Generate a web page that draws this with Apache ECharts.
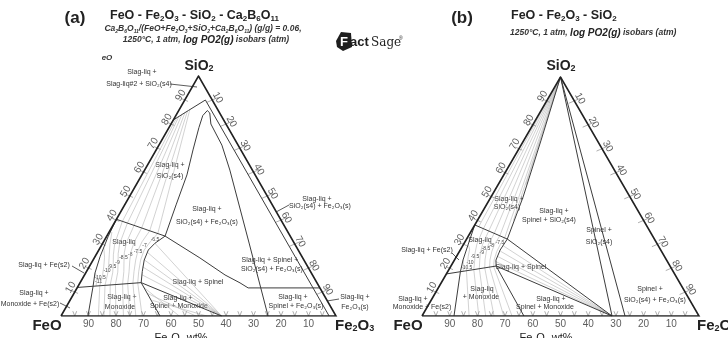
<!DOCTYPE html>
<html>
<head>
<meta charset="utf-8">
<title>FeO - Fe2O3 - SiO2 isobars</title>
<script src="https://cdn.jsdelivr.net/npm/echarts@6/dist/echarts.min.js"></script>
<style>
html,body{margin:0;padding:0;background:#fff}
#main{width:728px;height:338px}
</style>
</head>
<body>
<div id="main"></div>
<script>
// every point is [Fe2O3 wt%, SiO2 wt%], FeO is the rest
var edgeTicks = [10, 20, 30, 40, 50, 60, 70, 80, 90];
var baseMarks = [5, 10, 15, 20, 25, 30, 35, 40, 45, 50, 55, 60, 65, 70, 75, 80, 85, 90, 95];

// ---- (a) with Ca2B6O11 ----
var aL1 = [[0, 81.7], [3.5, 85.6], [7.5, 90]];
var aNearEdge = [[7.5, 90], [97.5, 0]];
var aDome = [[21.2, 33.3], [18.7, 46.3], [16.4, 58.8], [13.4, 69.2], [10.9, 78.5], [9.8, 83.5], [10.4, 85.6],
  [11.8, 84.6], [14.5, 80], [22.9, 71.2], [31, 60.8], [53.2, 30.4], [75.3, 0]];
var aSpinelTop = [[21.2, 33.3], [38.4, 24.2], [51.1, 17.1], [58.2, 13.8], [62.2, 11.7], [88.3, 11.7]];
var aLiquidus = [[21.2, 33.3], [19, 30.3], [18, 27.5], [18.6, 23.3], [20.3, 18.5], [22.2, 13.9]];
var aSiO2Sat = [[0, 40.3], [21.2, 33.3]];
var aMonoTop = [[0, 11.9], [22.2, 13.9]];
var aMonoRight = [[22.2, 13.9], [36, 0]];
var aSpinelBot = [[22.2, 13.9], [58.4, 0]];
var aFeSat = [[0, 40.3], [0.6, 33], [1.85, 24.7], [3.4, 17.9], [5.5, 12.3], [9.8, 0]];

var aIsobars = [
  [[21, 13.8], [19, 18.5], [17.3, 23.3], [16.5, 27.5], [17, 31], [18, 34.4]],
  [[19.3, 13.7], [17.3, 18.5], [15.5, 23.3], [14.3, 27.5], [14, 31], [14.5, 35.5]],
  [[17.5, 13.5], [15.5, 18.5], [13.5, 23], [12, 27], [11.2, 31], [11, 36.7]],
  [[15.7, 13.4], [13.6, 18.5], [11.5, 22.8], [9.8, 26.5], [8.5, 30.5], [7.7, 37.8]],
  [[13.2, 13.2], [11.5, 18.3], [9.5, 22.5], [7.8, 26], [6.3, 30], [4.8, 38.7]],
  [[11.4, 13], [9.8, 18], [8, 22], [6.3, 25.5], [4.5, 30], [2.6, 39.4]],
  [[9.6, 12.8], [8.2, 17.5], [6.6, 21.5], [4.8, 25.5], [2.8, 30], [1, 35]],
  [[7.8, 12.6], [6.8, 16.5], [5.3, 20.5], [3.6, 24.5], [1.3, 28.5]],
  [[6.5, 12.5], [5.5, 15], [3.6, 17.9]]
];
var aSilicaTies = [
  [[18, 34.4], [3.85, 86]], [[14.5, 35.5], [3.3, 85.4]], [[11, 36.7], [2.7, 84.7]],
  [[7.7, 37.8], [2, 83.9]], [[4.8, 38.7], [1.3, 83.2]], [[2.6, 39.4], [0.75, 82.5]]
];
var aSpinelTies = [
  [[19, 30.3], [58.4, 0]], [[18.2, 26.5], [58.4, 0]], [[18.4, 23.5], [58.4, 0]],
  [[19.4, 20.5], [58.4, 0]], [[20.8, 17.2], [58.4, 0]]
];
var aMonoTies = [
  [[21, 13.8], [29.5, 0]], [[19.3, 13.7], [27.2, 0]], [[17.5, 13.5], [25, 0]], [[15.7, 13.4], [22.7, 0]],
  [[13.2, 13.2], [20, 0]], [[11.4, 13], [17.8, 0]], [[9.6, 12.8], [15.6, 0]], [[7.8, 12.6], [13.6, 0]],
  [[24, 12], [43, 0]], [[27, 9.3], [49, 0]], [[30, 6.5], [53, 0]]
];

// ---- (b) ternary FeO - Fe2O3 - SiO2 ----
var bSiO2Sat = [[0, 38.1], [14.7, 32.2]];
var bSiO2Liq = [[14.7, 32.2], [11.6, 49.8], [6.2, 73.6], [0, 100]];
var bLiquidus = [[14.7, 32.2], [14.4, 27.6], [15, 23.4], [16.3, 20.9]];
var bMonoTop = [[0, 17.6], [16.3, 20.9]];
var bMonoRight = [[16.3, 20.9], [36.8, 0]];
var bSpinelTop = [[14.7, 32.2], [68.6, 0]];
var bSpinelBot = [[16.3, 20.9], [68.6, 0]];
var bSpinelSiO2a = [[0, 100], [68.6, 0]];
var bSpinelSiO2b = [[0, 100], [73.3, 0]];
var bFeSat = [[0, 38.1], [1.75, 29.7], [3.1, 23.4], [4.6, 18.5], [11.55, 0]];

var bIsobars = [
  [[15.5, 20.7], [14.3, 23.5], [13.5, 27], [13.3, 30], [13.5, 32.7]],
  [[14.2, 20.4], [12.8, 23.5], [11.7, 27], [11.2, 30], [11.3, 33.6]],
  [[12.6, 20.1], [11, 23.5], [9.8, 26.8], [9, 30], [8.8, 34.6]],
  [[10.8, 19.8], [9.2, 23.3], [7.8, 26.5], [6.9, 30], [6.3, 35.6]],
  [[9, 19.4], [7.5, 23], [6, 26.3], [4.8, 30], [3.9, 36.5]],
  [[6.6, 18.9], [5.4, 22], [4.2, 25], [3.2, 28], [2, 29.6]],
  [[5.5, 18.7], [4.4, 21], [3.2, 23.4]]
];
var bSilicaTies = [
  [[13.5, 32.7], [0, 100]], [[11.3, 33.6], [0, 100]], [[8.8, 34.6], [0, 100]],
  [[6.3, 35.6], [0, 100]], [[3.9, 36.5], [0, 100]], [[1.8, 37.4], [0, 100]],
  [[13, 40], [0, 100]], [[10, 55], [0, 100]]
];
var bSpinelTies = [
  [[14.4, 29.5], [68.6, 0]], [[14.4, 27.3], [68.6, 0]], [[14.7, 25], [68.6, 0]], [[15.2, 22.8], [68.6, 0]]
];
var bMonoTies = [
  [[6.6, 18.9], [17, 0]], [[9, 19.4], [20.5, 0]], [[10.8, 19.8], [23, 0]], [[12.6, 20.1], [26, 0]],
  [[14.2, 20.4], [29.5, 0]], [[15.5, 20.7], [32.5, 0]]
];

var triangle = [[0, 0], [100, 0], [0, 100], [0, 0]];

var FONT = '"Liberation Sans", Arial, sans-serif';

function tern(p) { return [p[0] + p[1] / 2, p[1]]; }

function linesSeries(polys, gi, color, width, z) {
  return {
    type: 'lines', coordinateSystem: 'cartesian2d', xAxisIndex: gi, yAxisIndex: gi,
    polyline: true, silent: true, animation: false, z: z,
    lineStyle: { color: color, width: width, opacity: 1 },
    data: polys.map(function (p) { return { coords: p.map(tern) }; })
  };
}

function tickPolys() {
  var out = [];
  baseMarks.forEach(function (v) { out.push([[v - 1.7, 2], [v, 0], [v - 0.3, 2]]); });
  edgeTicks.forEach(function (v) {
    out.push([[-1.5, v + 0.6], [1.5, v - 0.6]]);
    out.push([[v - 1.5, 100 - v - 1], [v + 1.5, 100 - v + 1]]);
  });
  return out;
}

function edgeLabels(gi) {
  var pts = [];
  edgeTicks.forEach(function (v) {
    pts.push({ name: String(v), value: tern([-2.4, v + 1.9]), label: { rotate: 60 } });
    pts.push({ name: String(v), value: tern([v + 1.5, 100 - v + 1.0]), label: { rotate: -60 } });
    pts.push({ name: String(v), value: tern([100 - v + 1.67, -3.33]) });
  });
  return {
    type: 'scatter', xAxisIndex: gi, yAxisIndex: gi, symbolSize: 0, clip: false, silent: true,
    animation: false, z: 5,
    label: { show: true, position: 'inside', formatter: '{b}', color: '#333', fontSize: 10, fontFamily: FONT },
    data: pts
  };
}

var series = [];
[0, 1].forEach(function (gi) {
  series.push(linesSeries(tickPolys(), gi, '#999', 0.8, 3));
  series.push(linesSeries([triangle], gi, '#222', 1.6, 6));
  series.push(edgeLabels(gi));
});
series.push(linesSeries(aIsobars.concat(aSilicaTies, aSpinelTies, aMonoTies), 0, '#b4b4b4', 0.6, 2));
series.push(linesSeries([aL1, aNearEdge, aDome, aSpinelTop, aLiquidus, aSiO2Sat, aMonoTop,
  aMonoRight, aSpinelBot, aFeSat], 0, '#3c3c3c', 1, 4));
series.push(linesSeries(bIsobars.concat(bSilicaTies, bSpinelTies, bMonoTies), 1, '#b4b4b4', 0.6, 2));
series.push(linesSeries([bSiO2Sat, bSiO2Liq, bLiquidus, bMonoTop, bMonoRight, bSpinelTop, bSpinelBot,
  bSpinelSiO2a, bSpinelSiO2b, bFeSat], 1, '#3c3c3c', 1, 4));

// region labels: [x, y, text]
var regionText = [
  [142, 72, 'Slag-liq +'], [139, 84.5, 'Slag-liq#2 + SiO₂(s4)'],
  [170, 165, 'Slag-liq +'], [170, 176, 'SiO₂(s4)'],
  [207, 209, 'Slag-liq +'], [207, 222, 'SiO₂(s4) + Fe₂O₃(s)'],
  [317, 199, 'Slag-liq +'], [320, 206, 'SiO₂(s4) + Fe₂O₃(s)'],
  [124, 242, 'Slag-liq'], [44, 265, 'Slag-liq + Fe(s2)'],
  [198, 282, 'Slag-liq + Spinel'],
  [270, 260, 'Slag-liq + Spinel +'], [272, 269, 'SiO₂(s4) + Fe₂O₃(s)'],
  [122, 297, 'Slag-liq +'], [120, 307, 'Monoxide'],
  [178, 298, 'Slag-liq +'], [179, 306, 'Spinel + Monoxide'],
  [293, 297, 'Slag-liq +'], [296, 306, 'Spinel + Fe₂O₃(s)'],
  [34, 293, 'Slag-liq +'], [30, 304, 'Monoxide + Fe(s2)'],
  [355, 297, 'Slag-liq +'], [355, 307, 'Fe₂O₃(s)'],
  [509, 199, 'Slag-liq +'], [507, 207, 'SiO₂(s4)'],
  [554, 211, 'Slag-liq +'], [549, 220, 'Spinel + SiO₂(s4)'],
  [599, 230, 'Spinel +'], [599, 242, 'SiO₂(s4)'],
  [480, 240, 'Slag-liq'], [427, 250, 'Slag-liq + Fe(s2)'],
  [521, 267, 'Slag-liq + Spinel'],
  [482, 289, 'Slag-liq'], [481, 297, '+ Monoxide'],
  [413, 299, 'Slag-liq +'], [422, 307, 'Monoxide + Fe(s2)'],
  [551, 299, 'Slag-liq +'], [545, 307, 'Spinel + Monoxide'],
  [650, 289, 'Spinel +'], [655, 300, 'SiO₂(s4) + Fe₂O₃(s)']
];
var isobarText = [
  [155, 240, '-6.5'], [144.5, 245.5, '-7'], [138, 251.3, '-7.5'], [130.3, 255, '-8'], [123.5, 258, '-8.5'],
  [117.5, 262.5, '-9'], [112, 266.5, '-9.5'], [107, 270.5, '-10'], [100, 277.5, '-10.5'], [98.5, 282, '-11'],
  [500, 243, '-7.5'], [491.7, 245.7, '-8'], [486, 249, '-8.5'], [481.7, 252.7, '-9'], [475, 256.7, '-9.5'],
  [470, 262.7, '-10'], [466.7, 267.3, '-10.5']
];
var pointers = [
  [170, 84, 197, 87], [289, 205, 277, 211.5], [72, 266, 84, 273], [60, 303, 70, 308],
  [327, 301, 339, 299], [452, 253, 459, 260]
];

var graphic = [];
regionText.forEach(function (t) {
  graphic.push({ type: 'text', x: t[0], y: t[1], silent: true, style: {
    text: t[2], fill: '#333', font: '7px ' + FONT, align: 'center', verticalAlign: 'middle' } });
});
isobarText.forEach(function (t) {
  graphic.push({ type: 'text', x: t[0], y: t[1], silent: true, style: {
    text: t[2], fill: '#444', font: '5px ' + FONT, align: 'center', verticalAlign: 'middle' } });
});
pointers.forEach(function (p) {
  graphic.push({ type: 'line', silent: true, shape: { x1: p[0], y1: p[1], x2: p[2], y2: p[3] },
    style: { stroke: '#333', lineWidth: 0.8 } });
});

var sub = { fontSize: 8, fontWeight: 'bold', fontFamily: FONT, verticalAlign: 'bottom', lineHeight: 14, fill: '#222' };
function rich(x, y, text, size, align, extra) {
  var base = { fontSize: size, fontWeight: 'bold', fontFamily: FONT, lineHeight: 14, fill: '#222' };
  var s = Object.assign({}, sub, { fontSize: Math.round(size * 0.62), lineHeight: 14 });
  if (extra) { Object.assign(base, extra); Object.assign(s, extra, { fontSize: Math.round(size * 0.62) }); }
  return { type: 'text', x: x, y: y, silent: true, style: {
    text: text, align: align, verticalAlign: 'middle', fontSize: size, fontWeight: 'bold', fontFamily: FONT,
    fill: '#222', rich: { m: base, s: s } } };
}

graphic.push(
  rich(75, 18, '{m|(a)}', 17, 'center'),
  rich(462, 18, '{m|(b)}', 17, 'center'),
  rich(110, 16, '{m|FeO - Fe}{s|2}{m|O}{s|3}{m| - SiO}{s|2}{m| - Ca}{s|2}{m|B}{s|6}{m|O}{s|11}', 12.5, 'left'),
  rich(511, 16, '{m|FeO - Fe}{s|2}{m|O}{s|3}{m| - SiO}{s|2}', 12.5, 'left'),
  rich(203, 29, '{m|Ca}{s|2}{m|B}{s|6}{m|O}{s|11}{m|/(FeO+Fe}{s|2}{m|O}{s|3}{m|+SiO}{s|2}{m|+Ca}{s|2}{m|B}{s|6}{m|O}{s|11}{m|) (g/g) = 0.06,}',
    8.5, 'center', { fontStyle: 'italic', lineHeight: 10, fill: '#333' }),
  { type: 'text', x: 206, y: 40, silent: true, style: { align: 'center', verticalAlign: 'middle',
    text: '{i|1250°C, 1 atm, }{L|log PO2(g)}{i| isobars (atm)}',
    rich: { i: { fontSize: 8.5, fontStyle: 'italic', fontWeight: 'bold', fontFamily: FONT, fill: '#333' },
            L: { fontSize: 10, fontStyle: 'italic', fontWeight: 'bold', fontFamily: FONT, fill: '#222' } } } },
  { type: 'text', x: 510, y: 33, silent: true, style: { align: 'left', verticalAlign: 'middle',
    text: '{i|1250°C, 1 atm, }{L|log PO2(g)}{i| isobars (atm)}',
    rich: { i: { fontSize: 8.5, fontStyle: 'italic', fontWeight: 'bold', fontFamily: FONT, fill: '#333' },
            L: { fontSize: 10, fontStyle: 'italic', fontWeight: 'bold', fontFamily: FONT, fill: '#222' } } } },
  rich(199, 66, '{m|SiO}{s|2}', 14, 'center'),
  rich(561, 66, '{m|SiO}{s|2}', 14, 'center'),
  rich(47, 326, '{m|FeO}', 15, 'center'),
  rich(408, 326, '{m|FeO}', 15, 'center'),
  rich(335, 326, '{m|Fe}{s|2}{m|O}{s|3}', 15, 'left'),
  rich(697, 326, '{m|Fe}{s|2}{m|O}{s|3}', 15, 'left'),
  rich(181, 338, '{m|Fe}{s|2}{m|O}{s|3}{m| wt%}', 11, 'center', { fontWeight: 'normal' }),
  rich(546, 338, '{m|Fe}{s|2}{m|O}{s|3}{m| wt%}', 11, 'center', { fontWeight: 'normal' }),
  { type: 'text', x: 107, y: 58, silent: true, style: { text: 'eO', font: 'italic bold 8px ' + FONT,
    fill: '#333', align: 'center', verticalAlign: 'middle' } },
  // FactSage mark
  { type: 'polygon', silent: true, shape: { points: [[336, 41], [341, 32], [351, 33], [352, 47], [343, 51], [337, 47]] },
    style: { fill: '#1e1e1e' } },
  { type: 'text', x: 344, y: 42, silent: true, style: { text: 'F', font: 'bold 13px ' + FONT, fill: '#fff',
    align: 'center', verticalAlign: 'middle' } },
  { type: 'text', x: 350, y: 49, silent: true, style: { text: 'act', font: 'bold 13px ' + FONT, fill: '#1e1e1e',
    align: 'left', verticalAlign: 'bottom' } },
  { type: 'text', x: 371, y: 49, silent: true, style: { text: 'Sage', font: '12px "DejaVu Serif", serif', fill: '#1e1e1e',
    align: 'left', verticalAlign: 'bottom' } },
  { type: 'text', x: 399, y: 39, silent: true, style: { text: '®', font: '5px ' + FONT, fill: '#1e1e1e',
    align: 'left', verticalAlign: 'middle' } }
);

var chart = echarts.init(document.getElementById('main'));
chart.setOption({
  backgroundColor: '#fff',
  animation: false,
  grid: [
    { left: 61, top: 76, width: 275, height: 240 },
    { left: 422, top: 77, width: 277, height: 239 }
  ],
  xAxis: [
    { gridIndex: 0, type: 'value', min: 0, max: 100, show: false },
    { gridIndex: 1, type: 'value', min: 0, max: 100, show: false }
  ],
  yAxis: [
    { gridIndex: 0, type: 'value', min: 0, max: 100, show: false },
    { gridIndex: 1, type: 'value', min: 0, max: 100, show: false }
  ],
  series: series,
  graphic: graphic
});
</script>
</body>
</html>
